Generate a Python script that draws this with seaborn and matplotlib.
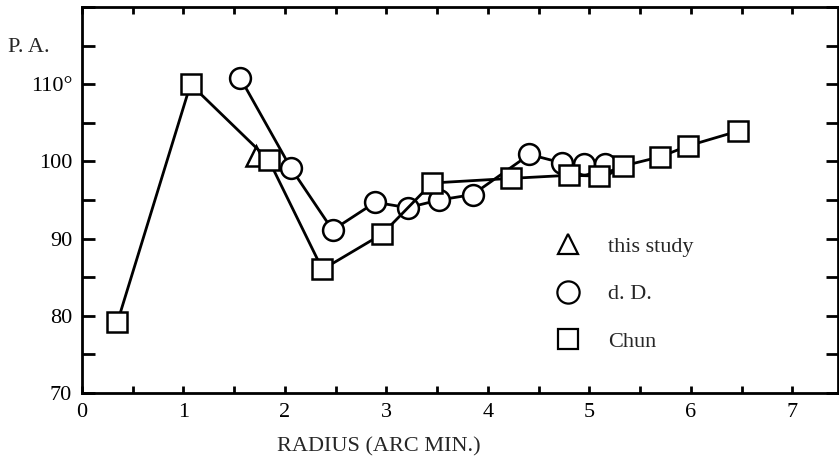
import matplotlib
matplotlib.use("Agg")
import matplotlib.pyplot as plt
from matplotlib.lines import Line2D
from matplotlib.ticker import MultipleLocator
import seaborn as sns
import pandas as pd

# Data
chun_x = [0.35, 1.07, 1.84, 2.37, 2.96, 3.45, 4.23, 4.80, 5.09, 5.33, 5.70, 5.97, 6.46]
chun_y = [79.2, 110.0, 100.2, 86.0, 90.6, 97.2, 97.8, 98.2, 98.1, 99.4, 100.6, 102.0, 103.9]
dd_x = [1.56, 2.06, 2.47, 2.89, 3.21, 3.52, 3.85, 4.41, 4.73, 4.95, 5.15]
dd_y = [110.8, 99.1, 91.1, 94.7, 94.0, 95.0, 95.7, 100.9, 99.8, 99.7, 99.7]
this_x = [1.71]
this_y = [100.7]
y_ticks = [70, 80, 90, 100, 110]
y_ticklabels = ["70", "80", "90", "100", "110°"]
x_ticks = [0, 1, 2, 3, 4, 5, 6, 7]
legend_labels = ["this study", "d. D.", "Chun"]

sns.set_style("ticks")
plt.rcParams["font.family"] = ["Liberation Serif", "DejaVu Serif"]

fig = plt.figure(figsize=(8.39, 4.66), dpi=100)
ax = fig.add_axes([0.0977, 0.1567, 0.9011, 0.8283])

chun = pd.DataFrame({"x": chun_x, "y": chun_y})
dd = pd.DataFrame({"x": dd_x, "y": dd_y})
th = pd.DataFrame({"x": this_x, "y": this_y})

common = dict(color="black", linewidth=2.0, markerfacecolor="white",
              markeredgecolor="black", markeredgewidth=1.8, sort=False,
              estimator=None)
sns.lineplot(data=chun, x="x", y="y", ax=ax, marker="s", markersize=15, zorder=3, **common)
sns.lineplot(data=dd, x="x", y="y", ax=ax, marker="o", markersize=15, zorder=2, **common)
ax.plot(th["x"], th["y"], linestyle="none", marker="^", markersize=15,
        markerfacecolor="white", markeredgecolor="black", markeredgewidth=1.8, zorder=2.5)

ax.set_xlim(0, 7.45)
ax.set_ylim(70, 120)
ax.set_xticks(x_ticks)
ax.set_xticklabels([str(v) for v in x_ticks])
ax.set_yticks(y_ticks)
ax.set_yticklabels(y_ticklabels)
ax.xaxis.set_minor_locator(MultipleLocator(0.5))
ax.yaxis.set_minor_locator(MultipleLocator(5))
ax.tick_params(axis="both", which="both", direction="in", top=True, right=True,
               width=2.0, labelsize=16, colors="black")
ax.tick_params(axis="y", which="both", length=9, pad=7)
ax.tick_params(axis="x", which="both", length=5, pad=7)
ax.set_xlabel("")
ax.set_ylabel("")
for s in ax.spines.values():
    s.set_visible(True)
    s.set_linewidth(2.0)
    s.set_color("black")

fig.text(0.009, 0.897, "P. A.", fontsize=16, ha="left", va="center")
fig.text(0.451, 0.042, "RADIUS (ARC MIN.)", fontsize=16, ha="center", va="center")

handles = [
    Line2D([], [], linestyle="none", marker="^", markersize=15, markerfacecolor="white",
           markeredgecolor="black", markeredgewidth=1.6),
    Line2D([], [], linestyle="none", marker="o", markersize=16, markerfacecolor="white",
           markeredgecolor="black", markeredgewidth=1.6),
    Line2D([], [], linestyle="none", marker="s", markersize=15, markerfacecolor="white",
           markeredgecolor="black", markeredgewidth=1.6),
]
ax.legend(handles, legend_labels, loc="upper left", bbox_to_anchor=(0.609, 0.428),
          frameon=False, fontsize=16, handlelength=1.5, handletextpad=1.05,
          labelspacing=1.2, borderaxespad=0)

fig.savefig("out.png", dpi=100)
